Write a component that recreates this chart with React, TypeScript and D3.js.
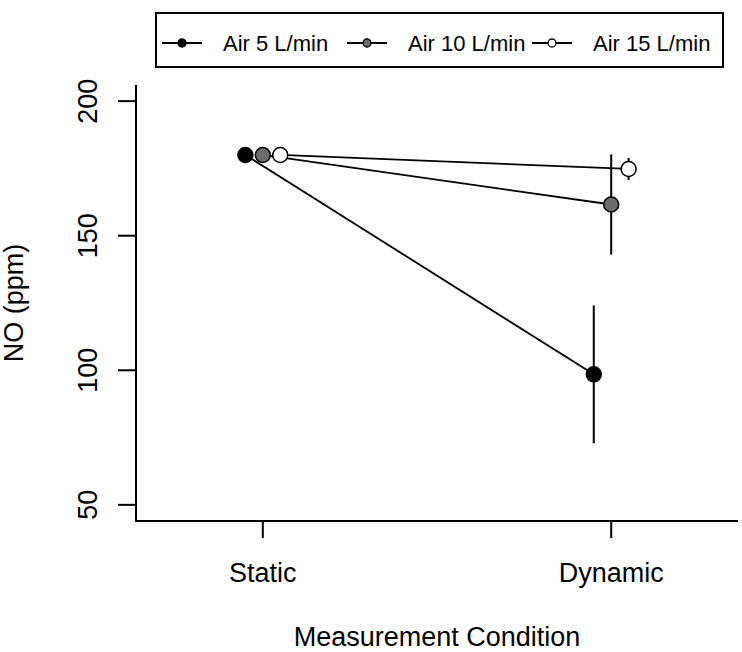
import React from "react";
import * as d3 from "d3";

const categories = ["Static", "Dynamic"];
const seriesNames = ["Air 5 L/min", "Air 10 L/min", "Air 15 L/min"];
const air5Means = [180, 98.5];
const air10Means = [180, 161.6];
const air15Means = [180, 174.8];
const air5Err = [0, 25.6];
const air10Err = [0, 18.6];
const air15Err = [0, 4.1];
const yTicks = [50, 100, 150, 200];
const fills = ["#000000", "#6b6b6b", "#ffffff"];
const dodge = [-0.05, 0, 0.05];

const W = 742;
const H = 652;
const FONT = "'Liberation Sans', Arial, Helvetica, sans-serif";

export default function App() {
  const x = d3.scaleLinear().domain([0.636, 2.364]).range([136, 738]);
  const y = d3.scaleLinear().domain([44, 206]).range([521, 85]);
  const means = [air5Means, air10Means, air15Means];
  const errs = [air5Err, air10Err, air15Err];
  const series = seriesNames.map((name, i) => ({
    name,
    fill: fills[i],
    pts: categories.map((c, j) => ({
      x: x(j + 1 + dodge[i]),
      y: y(means[i][j]),
      lo: y(means[i][j] - errs[i][j]),
      hi: y(means[i][j] + errs[i][j]),
      err: errs[i][j],
    })),
  }));
  const line = d3
    .line<{ x: number; y: number }>()
    .x((d) => d.x)
    .y((d) => d.y);

  const legendX0 = 182;
  const legendStep = 185;
  const legendY = 43;

  return (
    <svg
      width={W}
      height={H}
      style={{ position: "absolute", left: 0, top: 0, background: "#fff" }}
      fontFamily={FONT}
    >
      <rect x={0} y={0} width={W} height={H} fill="#fff" />
      {/* axes */}
      <line x1={136} x2={136} y1={85} y2={521} stroke="#000" strokeWidth={2} />
      <line x1={135} x2={738} y1={521} y2={521} stroke="#000" strokeWidth={2} />
      {yTicks.map((t) => (
        <g key={t}>
          <line x1={118} x2={136} y1={y(t)} y2={y(t)} stroke="#000" strokeWidth={2} />
          <text
            transform={`translate(97,${y(t)}) rotate(-90)`}
            textAnchor="middle"
            fontSize={27}
            fill="#000"
          >
            {t}
          </text>
        </g>
      ))}
      {categories.map((c, j) => (
        <g key={c}>
          <line x1={x(j + 1)} x2={x(j + 1)} y1={521} y2={538} stroke="#000" strokeWidth={2} />
          <text x={x(j + 1)} y={582} textAnchor="middle" fontSize={27} fill="#000">
            {c}
          </text>
        </g>
      ))}
      <text x={437} y={646} textAnchor="middle" fontSize={27} fill="#000">
        Measurement Condition
      </text>
      <text
        transform={`translate(23,303) rotate(-90)`}
        textAnchor="middle"
        fontSize={27}
        fill="#000"
      >
        NO (ppm)
      </text>
      {/* error bars */}
      {series.map((s) =>
        s.pts
          .filter((p) => p.err > 0)
          .map((p, k) => (
            <line
              key={s.name + k}
              x1={p.x}
              x2={p.x}
              y1={p.hi}
              y2={p.lo}
              stroke="#000"
              strokeWidth={2}
            />
          ))
      )}
      {/* lines */}
      {series.map((s) => (
        <path key={s.name} d={line(s.pts) || ""} fill="none" stroke="#000" strokeWidth={1.8} />
      ))}
      {/* points */}
      {series.map((s) =>
        s.pts.map((p, k) => (
          <circle
            key={s.name + "p" + k}
            cx={p.x}
            cy={p.y}
            r={7.5}
            fill={s.fill}
            stroke="#000"
            strokeWidth={1.5}
          />
        ))
      )}
      {/* legend */}
      <rect x={156} y={13} width={567} height={54} fill="#fff" stroke="#000" strokeWidth={2} />
      {series.map((s, i) => {
        const cx = legendX0 + i * legendStep;
        return (
          <g key={s.name + "leg"}>
            <line x1={cx - 20} x2={cx + 20} y1={legendY} y2={legendY} stroke="#000" strokeWidth={1.8} />
            <circle cx={cx} cy={legendY} r={4} fill={s.fill} stroke="#000" strokeWidth={1.3} />
            <text x={cx + 41} y={legendY + 8} fontSize={22} fill="#000">
              {s.name}
            </text>
          </g>
        );
      })}
    </svg>
  );
}
